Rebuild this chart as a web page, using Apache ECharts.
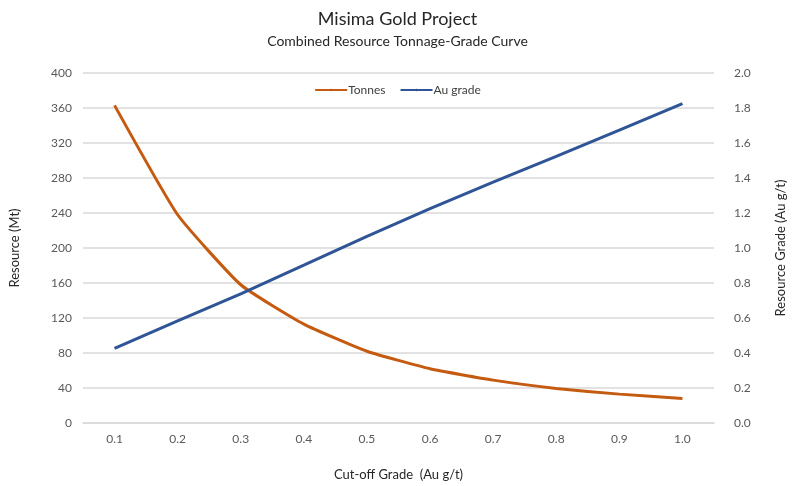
<!DOCTYPE html>
<html>
<head>
<meta charset="utf-8">
<script src="https://cdn.jsdelivr.net/npm/echarts@6/dist/echarts.min.js"></script>
<style>
  html, body { margin: 0; padding: 0; background: #fff; }
  #chart { width: 795px; height: 486px; }
</style>
</head>
<body>
<div id="chart"></div>
<script>
// Cut-off grades (Au g/t)
const cutoffGrades = ['0.1', '0.2', '0.3', '0.4', '0.5', '0.6', '0.7', '0.8', '0.9', '1.0'];
// Resource tonnes (Mt) above each cut-off
const tonnes = [363, 238, 158, 113, 82, 62, 49, 39.5, 33, 28];
// Average resource grade (Au g/t) above each cut-off
const auGrade = [0.427, 0.583, 0.738, 0.902, 1.067, 1.225, 1.377, 1.524, 1.673, 1.825];

const FONT = 'Lato, "Open Sans", sans-serif';
const chart = echarts.init(document.getElementById('chart'), null, { renderer: 'canvas' });

chart.setOption({
  animation: false,
  backgroundColor: '#ffffff',
  textStyle: { fontFamily: FONT },
  title: {
    text: 'Misima Gold Project',
    subtext: 'Combined Resource Tonnage-Grade Curve',
    left: 'center',
    top: 5,
    itemGap: 6,
    textStyle: { fontFamily: FONT, fontSize: 18, fontWeight: 'normal', color: '#262626' },
    subtextStyle: { fontFamily: FONT, fontSize: 14, color: '#262626' }
  },
  legend: {
    top: 79,
    left: 'center',
    itemWidth: 32,
    itemHeight: 3,
    itemGap: 14,
    textStyle: { fontFamily: FONT, fontSize: 12, color: '#404040', padding: [0, 0, 0, -4] },
    data: ['Tonnes', 'Au grade']
  },
  grid: { left: 83, right: 76, top: 73, bottom: 53 },
  xAxis: {
    type: 'category',
    data: cutoffGrades,
    boundaryGap: true,
    name: 'Cut-off Grade  (Au g/t)',
    nameLocation: 'middle',
    nameGap: 45,
    nameTextStyle: { fontFamily: FONT, fontSize: 13, color: '#262626' },
    axisLine: { lineStyle: { color: '#d9d9d9', width: 1.5 } },
    axisTick: { show: false },
    axisLabel: { color: '#595959', fontSize: 12, margin: 10, fontFamily: FONT }
  },
  yAxis: [
    {
      type: 'value',
      min: 0,
      max: 400,
      interval: 40,
      name: 'Resource (Mt)',
      nameLocation: 'middle',
      nameGap: 62,
      nameRotate: 90,
      nameTextStyle: { fontFamily: FONT, fontSize: 13, color: '#262626' },
      axisLine: { show: false },
      axisTick: { show: false },
      axisLabel: { color: '#595959', fontSize: 12, margin: 11, fontFamily: FONT },
      splitLine: { lineStyle: { color: '#d9d9d9', width: 1.5 } }
    },
    {
      type: 'value',
      min: 0,
      max: 2,
      interval: 0.2,
      name: 'Resource Grade (Au g/t)',
      nameLocation: 'middle',
      nameGap: 60,
      nameRotate: 90,
      nameTextStyle: { fontFamily: FONT, fontSize: 13, color: '#262626' },
      axisLine: { show: false },
      axisTick: { show: false },
      axisLabel: {
        color: '#595959', fontSize: 12, margin: 20, fontFamily: FONT,
        formatter: v => v.toFixed(1)
      },
      splitLine: { show: false }
    }
  ],
  series: [
    {
      name: 'Tonnes',
      type: 'line',
      yAxisIndex: 0,
      data: tonnes,
      symbol: 'none',
      smooth: 0.15,
      lineStyle: { color: '#C55A11', width: 3 },
      itemStyle: { color: '#C55A11' }
    },
    {
      name: 'Au grade',
      type: 'line',
      yAxisIndex: 1,
      data: auGrade,
      symbol: 'none',
      lineStyle: { color: '#2F5597', width: 3 },
      itemStyle: { color: '#2F5597' }
    }
  ]
});
</script>
</body>
</html>
